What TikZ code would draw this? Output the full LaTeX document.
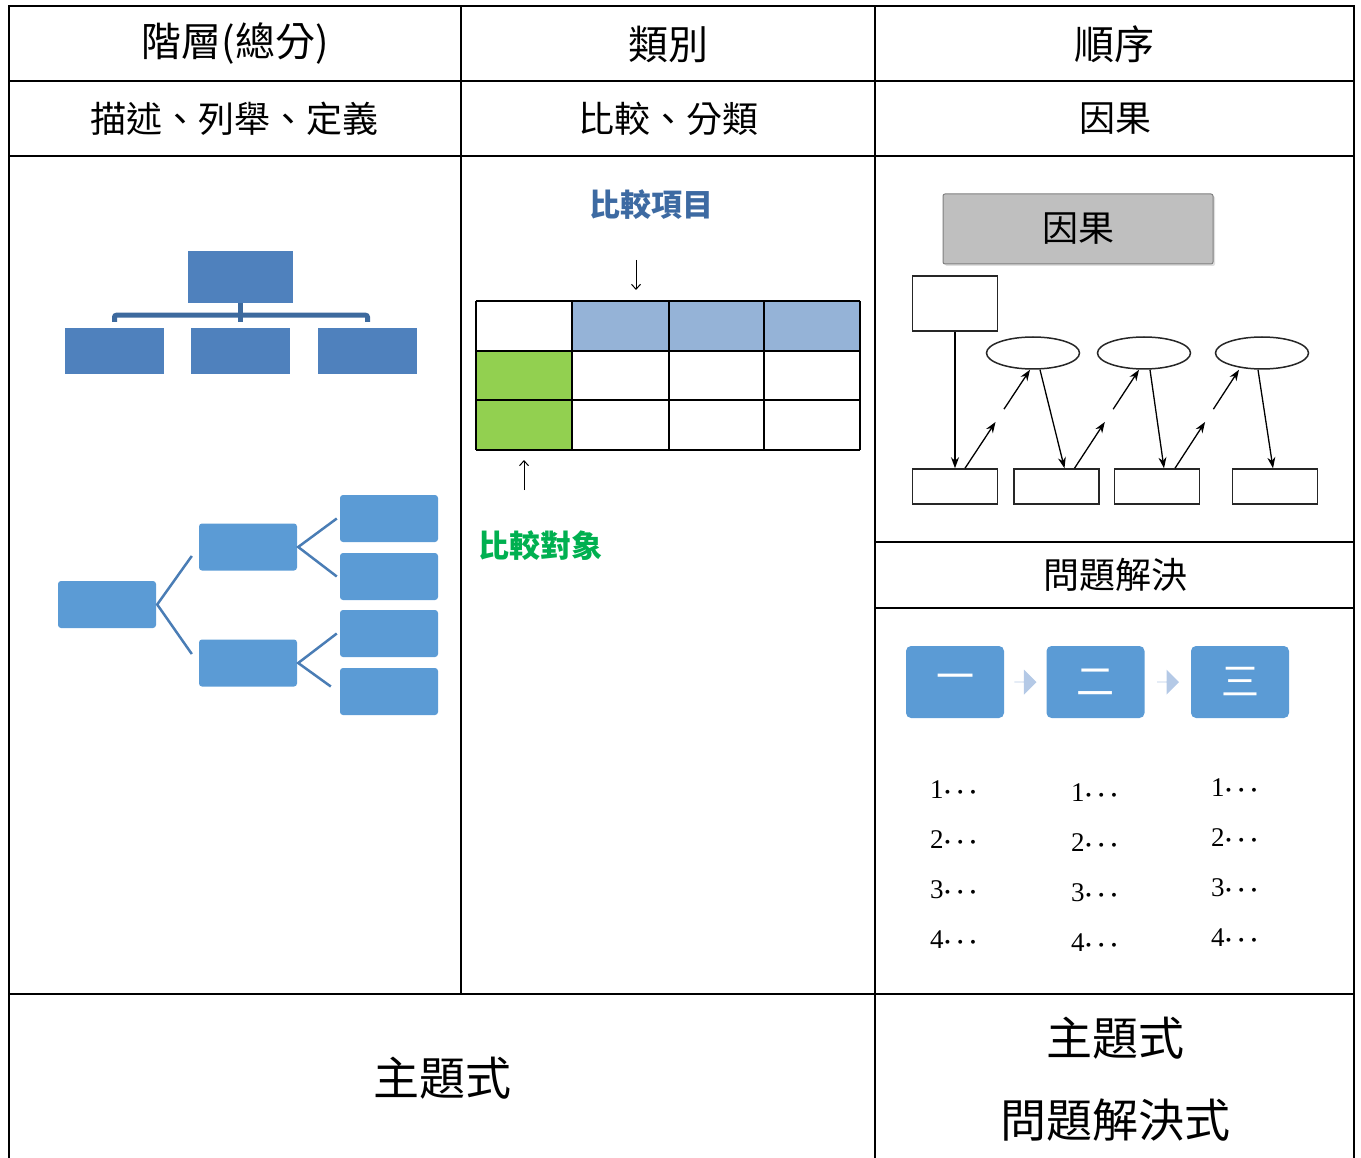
\documentclass[tikz,border=0pt]{standalone}
\usepackage{fontspec}
\usepackage{xcolor}
\usepackage{amsmath}
\usepackage{bm}
\usetikzlibrary{shapes.geometric, shapes.arrows, arrows.meta, positioning, calc, shadows}
\newfontfamily\cjk{Noto Sans CJK TC}
\newfontfamily\numfont{Liberation Serif}
\definecolor{orgblue}{HTML}{4F81BD}
\definecolor{brkblue}{HTML}{3D6A9E}
\definecolor{treeblue}{HTML}{5B9BD5}
\definecolor{twigblue}{HTML}{4A7DB5}
\definecolor{itemfill}{HTML}{95B3D7}
\definecolor{objfill}{HTML}{92D050}
\definecolor{itemtext}{HTML}{3D6AA2}
\definecolor{objtext}{HTML}{00B050}
\definecolor{tipblue}{HTML}{B4C9E6}

\begin{document}
\begin{tikzpicture}[x=1pt, y=-1pt]
    \tikzstyle{rule} = [line width=2.5pt, black]
    \tikzstyle{head} = [font=\cjk\fontsize{40}{48}\selectfont]
    \tikzstyle{kind} = [font=\cjk\fontsize{36}{42}\selectfont]
    \tikzstyle{big} = [font=\cjk\fontsize{46}{54}\selectfont]
    \tikzstyle{orgbox} = [rectangle, fill=orgblue, inner sep=0pt]
    \tikzstyle{treebox} = [rectangle, rounded corners=3pt, fill=treeblue, minimum width=98pt, minimum height=47pt, inner sep=0pt]
    \tikzstyle{brk} = [line width=5pt, brkblue]
    \tikzstyle{twig} = [line width=2.5pt, twigblue]
    \tikzstyle{sbox} = [rectangle, draw=black!85, line width=1.5pt, minimum width=85pt, minimum height=35pt, inner sep=0pt]
    \tikzstyle{oval} = [ellipse, draw=black!85, line width=1.5pt, minimum width=93pt, minimum height=32pt, inner sep=0pt]
    \tikzstyle{arrow} = [line width=1.3pt, -{Stealth[length=11pt, width=8pt]}]
    \tikzstyle{thinarrow} = [line width=1pt, -{Straight Barb[length=5pt, width=9pt]}]
    \tikzstyle{pbox} = [rectangle, rounded corners=5pt, fill=treeblue, minimum width=98pt, minimum height=72pt, inner sep=0pt, text=white, font=\cjk\fontsize{38}{40}\selectfont]
    \tikzstyle{tip} = [single arrow, fill=tipblue, single arrow head extend=5pt, minimum width=25pt, minimum height=22pt, inner sep=0pt]
    \tikzstyle{num} = [font=\numfont\fontsize{27}{30}\selectfont]

    \useasboundingbox (0,0) rectangle (1361,1158);

    % table lines
    \draw[rule] (9,1158) |- (1354,6) -- (1354,1158);
    \foreach \y in {81,156,994} \draw[rule] (9,\y) -- (1354,\y);
    \draw[rule] (461,6) -- (461,994);
    \draw[rule] (875,6) -- (875,1158);
    \draw[rule] (875,542) -- (1354,542);
    \draw[rule] (875,608) -- (1354,608);

    % headers
    \node[head] (hier) at (235,44) {階層(總分)};
    \node[head] (cls) at (668,44) {類別};
    \node[head] (seq) at (1114,44) {順序};
    \node[kind] (desc) at (234,119) {描述、列舉、定義};
    \node[kind] (comp) at (668,119) {比較、分類};
    \node[kind] (cause) at (1115,119) {因果};
    \node[kind] (solve) at (1115,575) {問題解決};
    \node[big] (topicA) at (442,1078) {主題式};
    \node[big] (topicB) at (1115,1038) {主題式};
    \node[big] (topicC) at (1115,1120) {問題解決式};

    % org chart
    \node[orgbox, minimum width=105pt, minimum height=52pt] (org0) at (240.5,277) {};
    \foreach \i/\x in {1/114.5,2/240.5,3/367.5}
        \node[orgbox, minimum width=99pt, minimum height=46pt] (org\i) at (\x,351) {};
    \draw[brk, rounded corners=2pt] ([yshift=6pt]org1.north) |- ($(org0.south)+(0,12)$) -| ([yshift=6pt]org3.north);
    \draw[brk] (org0.south) -- ([yshift=6pt]org2.north);

    % tree
    \node[treebox] (root) at (107,604.5) {};
    \node[treebox] (mid1) at (248,547) {};
    \node[treebox] (mid2) at (248,663) {};
    \foreach \i/\y in {1/518.5,2/576.5,3/633.5,4/691.5}
        \node[treebox] (leaf\i) at (389,\y) {};
    \draw[twig] ([yshift=-9pt,xshift=-7pt]mid1.west) -- ([xshift=1pt]root.east) -- ([yshift=9pt,xshift=-7pt]mid2.west);
    \draw[twig] ([xshift=-3pt]leaf1.west) -- ([xshift=1pt]mid1.east) -- ([xshift=-3pt]leaf2.west);
    \draw[twig] ([xshift=-3pt]leaf3.west) -- ([xshift=1pt]mid2.east) -- ([xshift=-9pt,yshift=5pt]leaf4.west);

    % comparison table
    \node[font=\cjk\bfseries\fontsize{31}{36}\selectfont, text=itemtext] (items) at (651,205) {比較項目};
    \node[font=\cjk\bfseries\fontsize{31}{36}\selectfont, text=objtext] (objs) at (540,546) {比較對象};
    \fill[itemfill] (572,301) rectangle (860,351);
    \fill[objfill] (476,351) rectangle (572,450);
    \foreach \y in {301,351,400,450} \draw[line width=2pt] (476,\y) -- (860,\y);
    \foreach \x in {476,572,669,764,860} \draw[line width=2pt] (\x,301) -- (\x,450);
    \coordinate (itemTail) at (636,260);
    \coordinate (itemTip) at (636,290);
    \coordinate (objTail) at (524,490);
    \coordinate (objTip) at (524,460);
    \draw[thinarrow] (itemTail) -- (itemTip);
    \draw[thinarrow] (objTail) -- (objTip);

    % cause and effect
    \node[rectangle, rounded corners=2pt, fill=black!25, draw=black!50, line width=1pt, drop shadow={opacity=0.25, shadow xshift=2pt, shadow yshift=-2pt}, minimum width=270pt, minimum height=70pt, font=\cjk\fontsize{36}{40}\selectfont] (ctitle) at (1078,229) {因果};
    \node[sbox, minimum height=55pt] (b0) at (955,303.5) {};
    \foreach \i/\x in {1/955,2/1056.5,3/1157,4/1275}
        \node[sbox] (b\i) at (\x,486.5) {};
    \foreach \i/\x in {1/1033,2/1144,3/1262}
        \node[oval] (e\i) at (\x,353) {};
    \draw[arrow] (b0.south) -- (b1.north);
    \foreach \i/\k/\sa/\ta/\ua/\va in {1/2/10/-3/7/8, 2/3/18/-5/6/7, 3/4/18/-23/-4/-2} {
        \coordinate (s\i) at ([xshift=\sa pt]b\i.north);
        \coordinate (f\i) at ([xshift=\ta pt]e\i.south);
        \draw[arrow] (s\i) -- ($(s\i)!0.47!(f\i)$);
        \draw[arrow] ($(s\i)!0.6!(f\i)$) -- (f\i);
        \draw[arrow] ([xshift=\ua pt]e\i.south) -- ([xshift=\va pt]b\k.north);
    }

    % steps
    \node[pbox] (p1) at (955,682) {一};
    \node[pbox] (p2) at (1095.5,682) {二};
    \node[pbox] (p3) at (1240,682) {三};
    \node[tip] (t1) at ($(p1.east)!0.5!(p2.west)$) {};
    \node[tip] (t2) at ($(p2.east)!0.5!(p3.west)$) {};
    \foreach \c/\x/\dy in {1/956/0,2/1097/3,3/1237/-2}
        \foreach \r in {1,2,3,4}
            \node[num] (n\c\r) at (\x,{740+50*\r+\dy}) {\r{\boldmath$\cdots$}};
\end{tikzpicture}
\end{document}
